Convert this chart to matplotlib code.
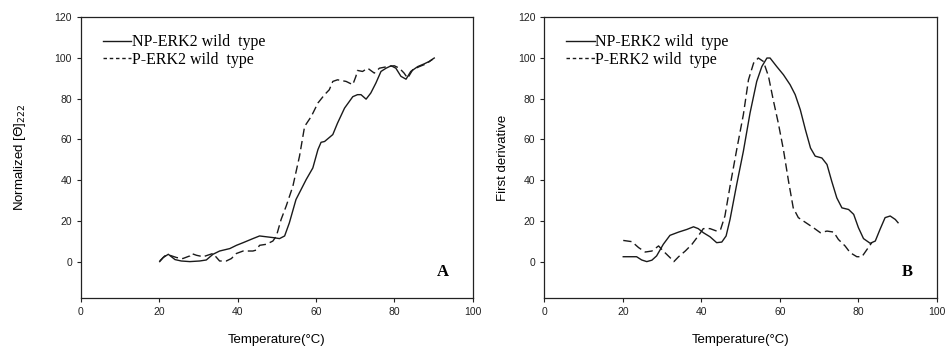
import matplotlib
matplotlib.use("Agg")
import matplotlib.pyplot as plt

# Panel A: normalized CD signal at 222 nm vs temperature
np_temp_a = [20.1, 21.0, 22.3, 24.0, 25.6, 27.8, 30.3, 32.0, 33.7, 35.4, 38.0, 39.7,
             41.4, 43.9, 45.6, 47.3, 49.0, 50.7, 52.0, 53.2, 54.9, 57.5, 59.2, 60.5,
             61.3, 62.2, 64.3, 65.5, 67.3, 69.4, 70.6, 71.5, 72.8, 74.0, 75.3, 76.6,
             77.9, 79.2, 80.4, 81.7, 83.0, 84.2, 86.0, 87.6, 88.9, 90.2]
np_theta_a = [0.0, 2.0, 3.6, 1.0, 0.3, 0.0, 0.3, 0.8, 3.6, 5.2, 6.4, 8.0,
              9.3, 11.3, 12.6, 12.2, 11.8, 11.3, 12.6, 19.0, 30.5, 40.3, 46.0, 55.0,
              58.6, 59.0, 62.4, 68.0, 75.4, 81.0, 82.0, 82.0, 79.8, 82.8, 87.7, 93.4,
              95.0, 96.2, 95.0, 91.0, 89.6, 93.4, 95.8, 97.1, 98.3, 100.0]

p_temp_a = [20.1, 21.4, 22.7, 24.4, 26.0, 27.8, 28.2, 29.5, 31.2, 33.7, 35.4, 37.1,
            38.4, 39.7, 41.4, 43.9, 44.8, 45.6, 47.3, 49.0, 49.9, 51.1, 52.4, 54.1,
            55.8, 57.1, 58.8, 60.5, 62.2, 63.4, 64.3, 65.5, 67.7, 69.4, 70.2, 70.6,
            71.9, 73.2, 74.9, 76.2, 78.3, 80.0, 81.3, 82.5, 83.4, 84.7, 86.4, 88.1, 89.8]
p_theta_a = [0.3, 2.8, 3.1, 2.0, 1.5, 2.8, 4.0, 3.1, 2.4, 4.0, 0.3, 0.3,
             1.5, 4.0, 5.2, 5.2, 5.7, 8.0, 8.5, 10.1, 12.6, 20.7, 27.3, 37.0,
             51.8, 66.4, 71.3, 77.9, 82.0, 84.4, 88.5, 89.3, 88.5, 86.9, 91.0, 93.9,
             93.4, 95.0, 92.6, 95.0, 95.8, 96.2, 95.0, 92.6, 90.1, 94.2, 95.8, 97.1, 99.4]

# Panel B: first derivative of the melting curves
np_temp_b = [20.1, 23.5, 24.8, 26.1, 27.4, 28.6, 30.3, 32.0, 34.2, 36.3, 38.0, 39.2,
             40.5, 42.2, 43.9, 45.2, 46.3, 47.3, 49.0, 50.7, 52.4, 54.1, 55.4, 56.7,
             57.5, 59.2, 60.9, 62.6, 63.9, 65.2, 66.5, 67.8, 69.0, 70.7, 72.0, 73.2,
             74.5, 75.8, 77.5, 78.8, 80.0, 81.3, 83.0, 84.3, 85.5, 86.8, 88.1, 89.4, 90.1]
np_deriv_b = [2.4, 2.4, 0.8, 0.0, 0.7, 2.8, 8.5, 12.9, 14.5, 15.8, 17.1, 16.2,
              14.2, 12.2, 9.3, 9.6, 12.6, 20.7, 37.9, 54.2, 73.0, 88.5, 95.8, 100.0,
              100.0, 95.8, 91.8, 86.9, 82.0, 74.6, 64.8, 55.8, 51.8, 50.9, 47.7, 39.5,
              31.3, 26.4, 25.6, 23.2, 16.7, 11.3, 9.0, 10.1, 15.8, 21.6, 22.4, 20.7, 19.1]

p_temp_b = [20.1, 22.3, 24.0, 25.7, 27.4, 29.1, 30.3, 32.0, 33.0, 34.2, 35.9, 37.6,
            39.2, 40.5, 42.2, 43.9, 44.9, 46.0, 47.3, 49.0, 50.7, 52.0, 53.3, 54.5,
            55.8, 57.1, 58.3, 59.6, 60.9, 62.2, 63.4, 64.7, 66.4, 68.5, 70.3, 72.0,
            73.7, 74.9, 76.6, 77.9, 79.6, 80.9, 82.2, 83.4]
p_deriv_b = [10.4, 9.8, 6.9, 4.7, 5.2, 7.7, 5.2, 2.0, 0.0, 2.4, 5.2, 8.5,
             12.6, 16.2, 16.2, 15.0, 15.8, 22.4, 37.0, 55.0, 72.2, 89.3, 97.5, 100.0,
             98.3, 91.0, 79.5, 68.0, 55.0, 39.5, 26.4, 21.6, 19.4, 16.7, 14.2, 15.0,
             14.5, 10.9, 7.7, 4.4, 2.4, 2.4, 6.0, 9.3]

SERIES_NAMES = ["NP-ERK2 wild  type", "P-ERK2 wild  type"]
X_TICKS = [0, 20, 40, 60, 80, 100]
Y_TICKS = [0, 20, 40, 60, 80, 100, 120]

LINE_COLOR = "#1a1a1a"
SANS = ["Liberation Sans", "DejaVu Sans"]
SERIF = ["Liberation Serif", "DejaVu Serif"]

fig = plt.figure(figsize=(9.46, 3.46), dpi=100)
ax_a = fig.add_axes([0.0856, 0.138, 0.414, 0.812])
ax_b = fig.add_axes([0.5754, 0.138, 0.415, 0.812])

panels = [
    (ax_a, (np_temp_a, np_theta_a), (p_temp_a, p_theta_a),
     r"Normalized [$\Theta$]$_{222}$", 19, "A"),
    (ax_b, (np_temp_b, np_deriv_b), (p_temp_b, p_deriv_b),
     "First derivative", 6, "B"),
]

for ax, solid, dashed, ylabel, ypad, tag in panels:
    ax.plot(solid[0], solid[1], color=LINE_COLOR, lw=1.0, label=SERIES_NAMES[0])
    ax.plot(dashed[0], dashed[1], color=LINE_COLOR, lw=1.0,
            dashes=(6, 3), label=SERIES_NAMES[1])

    ax.set_xlim(0, 100)
    ax.set_ylim(-18, 120)
    ax.set_xticks(X_TICKS)
    ax.set_yticks(Y_TICKS)
    ax.tick_params(direction="out", length=3, width=0.8, labelsize=7.5,
                   colors="#222222", top=False, right=False)
    for lbl in ax.get_xticklabels() + ax.get_yticklabels():
        lbl.set_family(SANS)
    for sp in ax.spines.values():
        sp.set_linewidth(0.9)
        sp.set_color("#222222")

    ax.set_xlabel("Temperature(°C)", family=SANS, fontsize=9.5, labelpad=12)
    ax.set_ylabel(ylabel, family=SANS, fontsize=9.5, labelpad=ypad)

    leg = ax.legend(loc="upper left", bbox_to_anchor=(0.055, 0.94), frameon=False,
                    prop={"family": SERIF, "size": 11.5}, handlelength=1.8,
                    handletextpad=0.05, labelspacing=0.1, borderaxespad=0.0,
                    borderpad=0.0)
    leg.get_lines()[1].set_dashes((2.5, 2))

    ax.text(0.925, 0.095, tag, transform=ax.transAxes, family=SERIF,
            fontsize=12, fontweight="bold", ha="center", va="center")

fig.savefig("out.png", dpi=100)
